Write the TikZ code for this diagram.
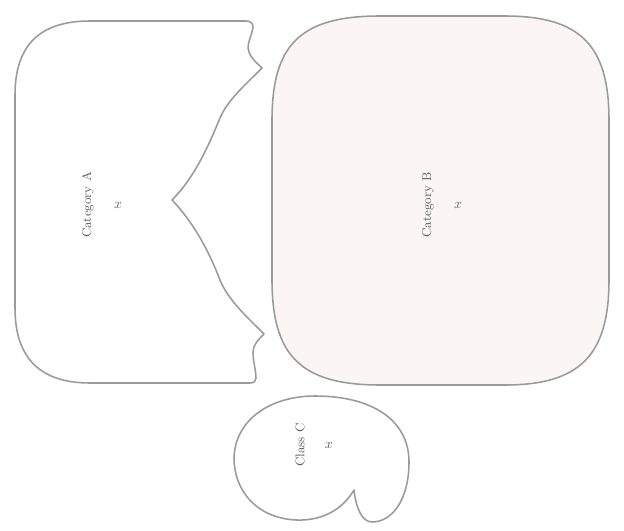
\documentclass[tikz,border=0pt]{standalone}
\usepackage{tikz}
\usetikzlibrary{positioning}
\definecolor{RegionLine}{HTML}{9A9A9A}
\definecolor{RegionFill}{HTML}{FBF5F6}
\definecolor{LabelGray}{HTML}{5E5E5E}

\begin{document}
\begin{tikzpicture}[x=0.025cm,y=-0.025cm,
          region/.style={draw=RegionLine,line width=1.1pt,line join=round},
          lbl/.style={rotate=90,font=\small,text=LabelGray,inner sep=1pt},
          pt/.style={font=\normalsize,text=LabelGray,inner sep=1pt}]
        \useasboundingbox (0,0) rectangle (624,531);
        % left region with the notched right side
        \draw[region,fill=white]
        (90,21) -- (246,21)
        .. controls (250,21) and (253,23) .. (253,27)
        .. controls (252,36) and (246,44) .. (249,52)
        .. controls (252,60) and (258,64) .. (262,68)
        .. controls (242,88) and (228,100) .. (220,118)
        .. controls (210,142) and (196,176) .. (172,200)
        .. controls (195,224) and (210,254) .. (220,280)
        .. controls (228,300) and (248,318) .. (264,334)
        .. controls (258,340) and (253,345) .. (253,352)
        .. controls (253,362) and (256,370) .. (256,378)
        .. controls (256,381) and (254,383) .. (250,383)
        -- (90,383)
        .. controls (40,383) and (15,358) .. (15,308)
        -- (15,95)
        .. controls (15,45) and (40,21) .. (90,21) -- cycle;
        % right region
        \draw[region,fill=RegionFill]
        (380,16) -- (505,16)
        .. controls (580,16) and (609,45) .. (609,120)
        -- (609,280)
        .. controls (609,355) and (580,385) .. (505,385)
        -- (380,385)
        .. controls (300,385) and (272,355) .. (272,280)
        -- (272,120)
        .. controls (272,45) and (300,16) .. (380,16) -- cycle;
        % small region at the bottom
        \draw[region,fill=white]
        (354,490)
        .. controls (342,510) and (322,521) .. (296,520)
        .. controls (256,518) and (234,490) .. (234,458)
        .. controls (235,420) and (270,396) .. (315,396)
        .. controls (372,396) and (409,420) .. (409,462)
        .. controls (409,500) and (392,522) .. (372,522)
        .. controls (362,522) and (356,508) .. (354,490) -- cycle;
        % labels
        \node[lbl] (la) at (88,205) {Category A};
        \node[pt,right=12pt of la.south] (xa) {$x$};
        \node[lbl] (lb) at (428,205) {Category B};
        \node[pt,right=12pt of lb.south] (xb) {$x$};
        \node[lbl] (lc) at (300,445) {Class C};
        \node[pt,right=12pt of lc.south] (xc) {$x$};
      \end{tikzpicture}
\end{document}
